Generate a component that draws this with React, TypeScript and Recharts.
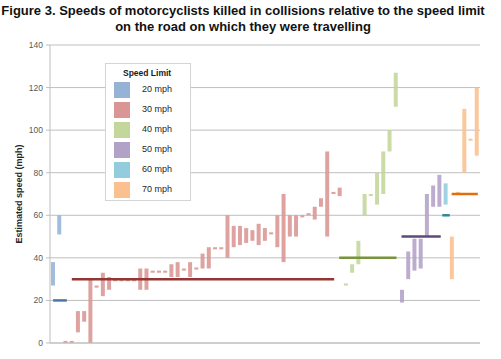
import { Bar, CartesianGrid, Cell, ComposedChart, ReferenceLine, XAxis, YAxis } from "recharts";

const FONT = "'Liberation Sans', Arial, sans-serif";

const speedLimits = [20, 30, 40, 50, 60, 70];
const limitLabels = ["20 mph", "30 mph", "40 mph", "50 mph", "60 mph", "70 mph"];
const yTicks = [0, 20, 40, 60, 80, 100, 120, 140];

// speed limit of the road for each case, in plotted order
const caseLimit = [
  20, 20,
  30, 30, 30, 30, 30, 30, 30, 30, 30, 30, 30, 30, 30, 30, 30,
  30, 30, 30, 30, 30, 30, 30, 30, 30, 30, 30, 30, 30, 30, 30,
  30, 30, 30, 30, 30, 30, 30, 30, 30, 30, 30, 30, 30, 30, 30,
  40, 40, 40, 40, 40, 40, 40, 40, 40,
  50, 50, 50, 50, 50, 50, 50,
  60,
  70, 70, 70, 70, 70,
];

// estimated speed range (mph) for each case
const speedLow = [
  27, 51,
  0, 0, 5, 10, 0, 26, 22, 25, 29, 29, 29, 29, 25, 25, 33,
  33, 33, 31, 31, 34, 31, 34.5, 35, 35, 44, 44, 40, 45, 46, 47,
  48, 46, 48, 51, 45, 38, 50, 50, 59, 60, 58, 64, 50, 70, 69,
  27, 33, 37, 60, 69, 65, 70, 90, 111,
  19, 30, 34, 35, 50, 64, 64,
  65,
  30, 70, 80, 95, 88,
];
const speedHigh = [
  38, 60,
  1, 1, 15, 15, 30, 27, 33, 31, 30, 30, 30, 30, 35, 35, 34,
  34, 34, 37, 38, 35, 38, 35.5, 42, 45, 45, 45, 60, 55, 55, 54,
  53, 56, 54, 52, 60, 70, 60, 60, 60, 61, 64, 68, 90, 71, 73,
  28, 37, 48, 70, 70, 80, 90, 100, 127,
  25, 43, 49, 49, 70, 74, 79,
  75,
  50, 71, 110, 96, 120,
];

// extent of each speed-limit line along the case axis
const limitFrom = [0, 3, 45.9, 55.9, 62.45, 63.95];
const limitTo = [2.2, 45.1, 55.1, 62.2, 63.65, 68.15];

const barColors: Record<number, string> = {
  20: "#95B3D7",
  30: "#D99694",
  40: "#C3D69B",
  50: "#B3A2C7",
  60: "#93CDDD",
  70: "#FAC090",
};
const lineColors = ["#4A76A8", "#943634", "#77933C", "#5F497A", "#31859C", "#E46C0A"];

const rows = caseLimit.map((limit, i) => ({
  idx: i,
  limit,
  range: [speedLow[i], speedHigh[i]],
}));

function YLabel({ viewBox }: any) {
  const cx = viewBox.x + 18.5;
  const cy = viewBox.y + viewBox.height / 2;
  return (
    <text
      x={cx}
      y={cy}
      transform={`rotate(-90 ${cx} ${cy})`}
      textAnchor="middle"
      dominantBaseline="central"
      fontSize={9}
      fontWeight="bold"
      fontFamily={FONT}
      fill="#262626"
    >
      Estimated speed (mph)
    </text>
  );
}

function SpeedLegend() {
  return (
    <div
      style={{
        position: "absolute",
        left: 105,
        top: 63,
        width: 86,
        height: 138,
        boxSizing: "border-box",
        border: "1px solid #D4D4D4",
        background: "#fff",
        fontFamily: FONT,
      }}
    >
      <div
        style={{ position: "absolute", left: 17, top: 4, fontSize: 8.5, fontWeight: "bold", color: "#1a1a1a" }}
      >
        Speed Limit
      </div>
      {speedLimits.map((limit, k) => (
        <div key={limit}>
          <div
            style={{
              position: "absolute",
              left: 8,
              top: 18 + k * 20,
              width: 15.5,
              height: 15.5,
              background: barColors[limit],
            }}
          />
          <div
            style={{ position: "absolute", left: 36, top: 20 + k * 20, fontSize: 9, color: "#262626" }}
          >
            {limitLabels[k]}
          </div>
        </div>
      ))}
    </div>
  );
}

export default function App() {
  return (
    <div
      style={{
        position: "absolute",
        left: 0,
        top: 0,
        width: 501,
        height: 359,
        background: "#fff",
        fontFamily: FONT,
      }}
    >
      <div
        style={{
          position: "absolute",
          left: 0,
          top: 3,
          width: 486,
          textAlign: "center",
          fontWeight: "bold",
          fontSize: 13,
          lineHeight: "16px",
          color: "#111",
          whiteSpace: "nowrap",
        }}
      >
        Figure 3. Speeds of motorcyclists killed in collisions relative to the speed limit
        <br />
        on the road on which they were travelling
      </div>
      <ComposedChart
        width={501}
        height={359}
        data={rows}
        margin={{ top: 45, right: 21, bottom: 15, left: 0 }}
      >
        <CartesianGrid vertical={false} stroke="#BFBFBF" />
        <XAxis
          type="number"
          dataKey="idx"
          domain={[-0.5, 68.5]}
          tick={false}
          tickLine={false}
          axisLine={{ stroke: "#BFBFBF" }}
          height={1}
        />
        <YAxis
          domain={[0, 140]}
          ticks={yTicks}
          width={50}
          tickSize={4}
          tickMargin={3}
          tickLine={{ stroke: "#BFBFBF" }}
          axisLine={{ stroke: "#BFBFBF" }}
          tick={{ fontSize: 8.5, fill: "#595959", fontFamily: FONT }}
          label={{ content: YLabel }}
        />
        <Bar dataKey="range" barSize={4} fillOpacity={0.88} isAnimationActive={false}>
          {rows.map((r) => (
            <Cell key={r.idx} fill={barColors[r.limit]} />
          ))}
        </Bar>
        {speedLimits.map((limit, k) => (
          <ReferenceLine
            key={limit}
            segment={[
              { x: limitFrom[k], y: limit },
              { x: limitTo[k], y: limit },
            ]}
            stroke={lineColors[k]}
            strokeWidth={2.5}
          />
        ))}
      </ComposedChart>
      <SpeedLegend />
    </div>
  );
}
